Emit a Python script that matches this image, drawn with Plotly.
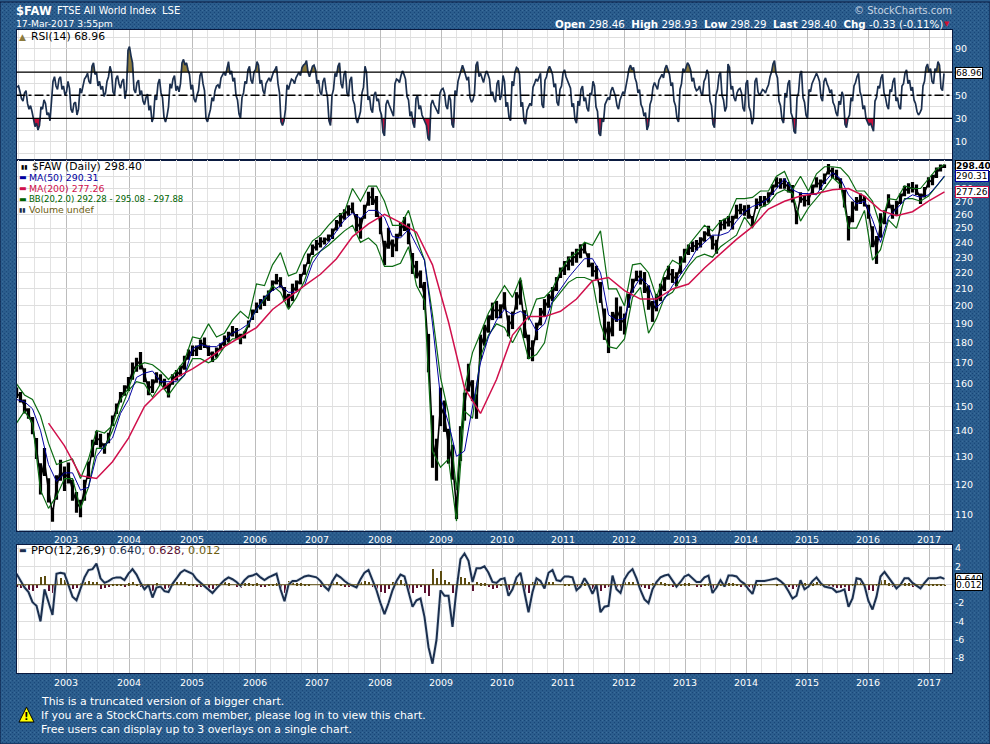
import math
import urllib.parse
import numpy as np
import plotly.graph_objects as go

# x axis is counted in trading sessions from the left edge of the chart
years = ["2003", "2004", "2005", "2006", "2007", "2008", "2009", "2010", "2011", "2012", "2013", "2014", "2015", "2016", "2017"]
year_sessions = [198, 450, 702, 954, 1202, 1454, 1698, 1942, 2186, 2430, 2674, 2918, 3162, 3406, 3650]

# one value every 16 sessions
price = [156,154,150,147,142,133,122,128,118,110,119,125,122,124,118,114,112,118,125,133,137,136,133,137,144,149,154,157,160,166,169,171,164,158,159,163,162,160,157,162,164,166,170,
  174,176,176,179,180,176,173,175,178,181,183,186,185,182,184,190,195,199,201,203,206,212,216,214,207,203,208,212,216,222,229,235,238,240,241,243,246,252,256,260,263,265,254,250,262,272,
  274,266,252,233,243,236,240,249,253,246,226,222,216,206,175,136,129,150,146,134,128,112,135,150,163,157,150,178,184,190,197,198,197,203,189,192,203,208,190,178,176,186,194,199,203,207,213,220,223,226,
  229,231,234,236,228,222,220,208,190,183,190,198,193,190,203,212,218,217,214,205,197,202,208,213,220,218,216,225,231,235,237,238,240,244,248,240,237,252,253,255,254,
  262,264,263,262,255,268,270,270,273,279,285,284,284,281,276,258,273,270,271,279,285,283,288,296,293,291,284,272,250,262,268,272,270,262,244,235,252,258,270,262,265,272,278,280,281,279,272,277,285,287,293,297,298.4]

# height of the black bar cluster at each price point, percent of price
bar_range = [3,3,4,3,5,6,9,8,7,4,
  7,6,7,6,6,6,5,6,5,5,
  4,4,3,3,3,3,3,3,4,5,
  4,5,4,4,4,3,3,3,4,3,
  3,3,4,3,3,3,3,3,3,3,
  3,2,3,3,3,3,3,2,2,3,
  3,3,3,3,3,3,3,4,4,5,
  3,3,3,3,3,3,3,2,2,3,
  3,4,3,3,3,5,6,4,4,5,
  6,5,7,6,5,5,4,4,6,6,
  5,5,8,11,15,12,11,9,10,10,
  6,10,8,8,6,7,7,6,5,5,
  5,4,5,6,5,5,7,8,7,6,
  5,5,5,4,4,4,3,4,4,4,
  4,4,3,4,4,4,6,9,9,7,
  7,7,6,4,4,3,4,6,7,6,
  5,5,4,4,4,4,5,4,3,3,
  3,3,3,3,4,4,3,3,3,4,
  4,3,3,4,3,3,3,3,3,3,
  3,3,3,3,5,4,3,3,3,3,
  3,3,3,3,3,3,3,5,7,6,
  4,3,3,4,6,8,7,4,4,4,
  4,3,3,3,3,3,3,3,3,3,
  3,2,1]

# every 32 sessions
bb_upper = [160,155,153,146,135,127,128,129,122,129,140,139,142,153,158,168,170,169,166,162,166,171,
  183,182,190,183,185,192,197,193,213,212,225,233,218,220,232,241,245,252,258,262,280,270,282,
  282,270,252,252,263,243,228,195,163,147,118,158,175,185,196,204,212,205,217,192,204,205,210,221,229,
  233,240,238,248,210,210,200,225,226,220,205,220,228,225,238,245,252,248,255,258,
  272,272,273,278,278,290,294,279,290,278,292,298,298,297,290,278,278,270,251,272,271,282,280,280,288,296,300]
bb_lower = [143,148,143,118,112,116,122,122,112,119,133,133,140,148,157,161,160,154,160,155,160,164,
  172,172,170,172,178,182,182,190,198,204,212,208,198,205,215,230,234,238,243,248,252,240,243,
  238,224,224,226,237,212,203,132,126,129,108,148,145,173,184,190,188,180,188,172,174,180,202,208,214,
  217,217,215,190,178,177,182,205,211,185,193,205,208,216,224,230,232,230,237,241,
  245,258,250,265,268,276,279,276,255,265,272,280,289,283,250,250,263,228,235,256,250,272,272,270,274,282,290]
ma50 = [153,152,149,140,127,121,124,124,118,119,130,134,137,147,153,163,165,166,161,161,161,164,
  177,179,178,178,181,185,187,190,198,205,209,212,208,208,212,226,234,240,248,256,261,257,263,
  263,258,244,243,249,238,228,190,154,143,130,132,149,170,183,192,198,195,197,194,186,190,203,210,217,
  223,229,229,220,195,192,193,209,217,212,199,204,212,219,226,235,240,245,245,247,
  255,262,266,268,272,280,288,279,276,276,275,285,293,288,275,268,270,256,240,258,264,271,275,273,275,282,290.3]

# every 64 sessions, starts after the first 200 days
ma200_start = 128
ma200 = [143,134,123,122,128,137,150,157,163,167,172,178,183,188,198,205,212,219,229,244,253,260,254,247,225,191,158,147,162,184,194,194,197,204,215,217,209,204,204,210,213,223,232,242,251,264,270,274,276,279,280,274,263,259,262,270,277.3]

# every 12 sessions
rsi = [57,53,45,54,38,36,23,20,40,46,33,28,62,58,64,55,50,62,38,43,33,56,60,66,62,75,68,58,55,49,62,75,53,64,60,62,47,89,84,55,61,50,45,48,37,27,50,60,52,31,32,60,64,54,53,78,76,72,55,47,50,67,60,30,33,48,54,59,65,70,75,68,62,50,34,48,62,72,63,70,79,60,54,60,65,67,72,60,27,28,59,60,63,65,70,74,77,70,72,76,60,53,62,55,28,50,
  69,75,60,68,52,63,46,30,31,52,75,46,38,50,45,37,18,42,42,35,60,63,67,68,49,32,26,47,38,33,28,13,42,42,37,52,56,41,50,25,54,62,72,72,63,48,46,76,66,64,67,68,50,47,60,46,67,40,31,62,70,73,40,28,37,43,57,64,66,42,63,72,72,57,44,55,69,66,60,40,29,45,55,45,39,52,62,40,17,30,42,48,54,52,41,46,53,60,73,72,65,52,42,32,20,42,57,58,
  63,68,73,72,58,45,30,55,73,74,76,62,57,55,52,62,72,45,25,50,67,50,36,77,55,48,52,56,39,60,40,25,62,53,52,54,56,66,77,69,45,29,52,60,35,19,48,68,48,33,55,60,66,66,48,62,60,52,44,35,45,53,25,30,48,58,66,53,38,30,24,22,45,58,65,52,41,55,62,45,40,58,69,60,54,46,36,35,58,74,70,62,73,79,56,68.96]
# the readings between those, 6 sessions later
rsi_mid = [58,47,52,43,41,30,26,24,38,43,35,45,66,55,66,58,53,56,35,44,38,52,64,69,60,78,70,62,58,52,66,70,50,67,56,64,55,92,78,52,63,54,42,51,41,31,46,64,48,27,40,56,67,58,60,81,78,68,59,44,54,70,54,27,38,45,58,56,68,67,79,71,65,46,30,52,60,75,60,72,76,63,51,63,62,70,75,52,24,38,55,64,60,68,67,76,80,66,75,72,63,50,65,48,24,
  55,66,78,56,71,49,66,42,26,36,57,70,49,35,53,47,33,15,46,39,32,64,61,71,64,46,36,22,50,41,30,24,11,46,39,34,55,52,38,46,22,50,66,76,68,66,44,52,79,69,61,71,64,53,44,63,50,62,44,28,58,74,68,44,25,40,41,60,62,69,39,66,75,68,60,41,58,72,63,56,43,26,41,58,48,36,50,58,36,15,27,45,46,57,49,38,49,51,65,76,74,61,55,39,35,24,46,61,
  55,66,65,76,68,61,41,27,60,70,78,72,65,54,58,50,65,68,41,22,55,70,46,40,74,58,45,55,52,36,63,36,30,65,50,55,52,59,70,80,65,41,26,48,63,31,17,52,71,44,30,53,63,69,62,45,65,57,55,41,32,42,49,22,33,45,61,69,49,41,27,26,19,48,56,68,48,38,53,65,48,38,60,72,63,57,43,33,38,62,77,73,60,71,76,54]

# every 16 sessions
ppo = [1.2,0.4,-0.3,-0.8,-1.9,-2.3,-4,-0.5,-2,-3.3,1.2,1.3,1.2,-0.1,-1.3,-1.7,-0.5,0.8,1.6,1.7,2.3,0.7,0.2,0.4,0.7,0.8,0.8,0.5,1.2,1.7,1.1,0.2,-0.5,0,-1.4,-0.3,-0.2,-0.7,-0.8,0.1,0.7,1.3,1.6,1.4,1.2,0.6,0.2,-0.2,-0.6,-0.9,-0.4,0.1,0.5,0.8,0.6,0.3,-0.1,0.5,0.9,1,1.2,0.8,0.5,0.8,1,1.2,-0.5,-1.8,0,0.4,0.4,0.7,0.9,1,0.9,0.8,0.4,-0.2,-0.6,0.4,1.1,0.8,0.4,0.1,-0.1,-0.3,0.6,1.3,1.6,0.5,-0.6,-2,-3.2,-2,-0.6,0.4,1.1,0.9,-0.8,-2.4,-1.7,-1.5,-3.5,-6.8,-8.6,-6,-0.6,-1.2,-1.2,-4.6,-0.5,2.8,3.4,2.6,0.3,1.8,1.8,2,1.3,0.3,0.2,
  0.6,0.7,-1.2,-0.5,0.8,1.3,-1,-3,-0.8,0.7,0.4,-0.4,1.3,1.6,0.5,0.4,0.9,0.9,0.8,-0.6,-0.2,0.7,0,-1,0,-3,-2.4,-2.3,1,-0.5,-0.9,0.6,1.3,1.7,0.7,-0.6,-1.6,-2,-0.5,0.3,0.8,1,1.1,0.5,-0.2,0.3,0.9,1.1,0.7,0.3,0.3,0.8,1,-0.9,-0.3,0.5,-0.2,1,1,0.9,0.4,0.1,-0.5,-1,0.4,0.4,0.4,0.5,0.6,0.7,0.4,0,-0.7,-1.5,-1.2,0.5,-0.5,-0.2,0.4,0.8,0.2,-0.2,-0.3,-0.4,-0.8,-0.7,-0.5,-2.4,-1.5,0.7,0.6,-0.1,-1.8,-2.7,-1.3,0.9,1.4,0.8,0.2,-0.4,0,0.7,0.7,0.2,-0.1,-0.4,0.2,0.7,0.7,0.7,0.8,0.64]
ppo_hist = [-0.2,-0.3,-0.4,-0.5,-0.6,-0.3,0.9,1,-0.6,-0.8,0.9,0.8,0.6,-0.2,-0.4,-0.3,0.2,0.4,0.5,0.3,0.4,-0.4,-0.3,-0.1,0.1,0.1,0.1,-0.1,0.2,0.4,0.1,-0.2,-0.4,0.1,-0.6,0.2,-0.2,-0.4,-0.3,0.2,0.3,0.4,0.3,0.1,0.1,-0.2,-0.2,-0.3,-0.4,-0.4,0.1,0.3,0.3,0.2,0,-0.1,-0.3,0.2,0.2,0.1,0.2,-0.1,-0.1,0.1,0.1,0.2,-0.6,-0.9,0.5,0.4,0.2,0.2,0.1,0.1,0,0,-0.1,-0.2,-0.3,0.3,0.4,0.1,-0.1,-0.2,-0.2,-0.3,0.3,0.5,0.4,-0.2,-0.4,-0.7,-0.9,-0.4,0.3,0.5,0.6,0.2,-0.6,-0.9,-0.3,-0.2,-0.9,-1.2,1.8,0.8,1.5,0.6,0.4,-0.9,0.8,0.9,0.8,0.3,-0.6,0.3,0.2,0.2,-0.2,-0.4,-0.3,
  0.1,0.2,-0.5,0.1,0.4,0.5,-0.5,-0.8,0.4,0.7,0.3,-0.2,0.4,0.4,0,0,0.1,0.1,0,-0.4,-0.1,0.2,-0.1,-0.4,0.1,-0.6,-0.3,-0.1,0.8,-0.1,-0.3,0.3,0.3,0.3,0,-0.2,-0.3,-0.4,0.2,0.4,0.4,0.2,0.1,-0.1,-0.2,0.1,0.2,0.2,0,-0.1,-0.1,0.1,0.2,-0.4,-0.1,0.2,-0.2,0.2,0.2,0.1,-0.1,-0.1,-0.2,-0.4,0.1,0.1,0,0,0,0.1,0,-0.1,-0.2,-0.4,-0.2,0.4,0.2,0.1,0.2,0.3,0.1,-0.1,-0.1,-0.2,-0.3,-0.3,-0.1,-0.6,0.1,0.5,0.4,-0.2,-0.5,-0.6,0.1,0.6,0.6,0.2,-0.1,-0.3,0.1,0.2,0.2,-0.1,-0.1,-0.2,0,0.1,0.1,0.05,0.03,0.012]

rsi_ticks = [10, 30, 50, 70, 90]
price_ticks = list(range(110, 300, 10))
ppo_ticks = [4, 2, 0, -2, -4, -6, -8]

W, H = 990, 744
NAVY = "#1b2f4e"
quarters = [year_sessions[0] - 63 * i for i in range(1, 4)]
for a, b in zip(year_sessions, year_sessions[1:]):
    quarters += [a + (b - a) * i / 4 for i in range(1, 4)]
quarters += [year_sessions[-1] + 63]

x_16 = np.arange(len(price)) * 16
x_32 = np.arange(len(ma50)) * 32
x_64 = ma200_start + np.arange(len(ma200)) * 64

# merge the two rsi lists back in session order
rsi_pts = sorted([(2 + i * 12, v) for i, v in enumerate(rsi)] + [(8 + i * 12, v) for i, v in enumerate(rsi_mid[:len(rsi) - 1])])
x_rsi = [p[0] for p in rsi_pts]
rsi_all = np.array([p[1] for p in rsi_pts], dtype=float)

bar_half = [p * r / 200 for p, r in zip(price, bar_range)]

fig = go.Figure()


def line(x, y, color, width, ax):
    fig.add_trace(go.Scatter(x=x, y=y, mode="lines", line=dict(color=color, width=width), xaxis="x" + ax, yaxis="y" + ax, hoverinfo="skip"))


# rsi panel
line(x_rsi, [70] * len(x_rsi), "rgba(0,0,0,0)", 0, "")
fig.add_trace(go.Scatter(x=x_rsi, y=np.maximum(rsi_all, 70), mode="lines", line=dict(width=0), fill="tonexty", fillcolor="#8c7a3c", hoverinfo="skip"))
line(x_rsi, [30] * len(x_rsi), "rgba(0,0,0,0)", 0, "")
fig.add_trace(go.Scatter(x=x_rsi, y=np.minimum(rsi_all, 30), mode="lines", line=dict(width=0), fill="tonexty", fillcolor="#c8103c", hoverinfo="skip"))
line(x_rsi, rsi_all, NAVY, 1.7, "")

# price panel
fig.add_trace(go.Scatter(x=x_16, y=price, mode="lines", line=dict(color="black", width=1.6), xaxis="x2", yaxis="y2", hoverinfo="skip",
                         error_y=dict(type="data", array=bar_half, arrayminus=bar_half, color="black", thickness=3.2, width=0)))
line(x_32, bb_upper, "#0b6b12", 1.2, "2")
line(x_32, bb_lower, "#0b6b12", 1.2, "2")
line(x_32, ma50, "#0000a0", 1, "2")
line(x_64, ma200, "#d0104c", 1.5, "2")

# ppo panel
fig.add_trace(go.Bar(x=x_16, y=ppo_hist, width=10, marker=dict(color=["#5c4c10" if v >= 0 else "#5a1030" for v in ppo_hist], line=dict(width=0)), xaxis="x3", yaxis="y3", hoverinfo="skip"))
line(x_16, ppo, "#dfe6ee", 3.5, "3")
line(x_16, ppo, NAVY, 2, "3")

axis_style = dict(showline=True, linecolor="#0a1a40", linewidth=1, mirror=True, ticks="", zeroline=False, tickfont=dict(family="DejaVu Sans", size=9.5, color="white"))
x_common = dict(range=[0, 3742], domain=[16.5 / W, 952 / W], tickvals=year_sessions, ticktext=years, showgrid=True, gridcolor="#bcbcbc", gridwidth=1,
                minor=dict(tickvals=quarters, showgrid=True, gridcolor="#e2e2e2", gridwidth=1, ticks=""), **axis_style)
y_common = dict(side="right", showgrid=True, gridcolor="#dedede", gridwidth=1, **axis_style)


def dom(top, bottom):
    return [1 - bottom / H, 1 - top / H]


fig.update_layout(
    width=W, height=H, margin=dict(l=0, r=0, t=0, b=0), showlegend=False, paper_bgcolor="#2a5c8c", plot_bgcolor="white", barmode="overlay", bargap=0,
    xaxis=dict(anchor="y", showticklabels=False, **x_common),
    xaxis2=dict(anchor="y2", **x_common),
    xaxis3=dict(anchor="y3", **x_common),
    yaxis=dict(anchor="x", domain=dom(28, 158), range=[-5.5, 106.4], tickvals=rsi_ticks, ticktext=[str(v) for v in rsi_ticks],
               minor=dict(tickvals=[0, 20, 40, 60, 80, 100], showgrid=True, gridcolor="#dedede", ticks=""), **y_common),
    yaxis2=dict(anchor="x2", domain=dom(158, 530), type="log", range=[math.log10(105.1), math.log10(304.2)], tickvals=price_ticks, ticktext=[str(v) for v in price_ticks], **y_common),
    yaxis3=dict(anchor="x3", domain=dom(544, 673), range=[-9.64, 4.38], tickvals=ppo_ticks, ticktext=["" if v == 0 else str(v) for v in ppo_ticks], **y_common),
)

# background texture, the plot areas go back on top of it as white rectangles
tile = ('<svg xmlns="http://www.w3.org/2000/svg" width="990" height="744"><defs><pattern id="p" width="4" height="4" patternUnits="userSpaceOnUse">'
        '<rect width="4" height="4" fill="#2b5d8d"/><rect width="1" height="1" fill="#174476"/><rect x="2" y="2" width="1" height="1" fill="#174476"/>'
        '<rect x="2" width="1" height="1" fill="#3d6f9c"/></pattern></defs><rect width="990" height="744" fill="url(#p)"/></svg>')
fig.add_layout_image(source="data:image/svg+xml," + urllib.parse.quote(tile), xref="paper", yref="paper", x=0, y=1, sizex=1, sizey=1, xanchor="left", yanchor="top", sizing="stretch", layer="below")
for top, bottom in [(28, 158), (158, 530), (544, 673)]:
    fig.add_shape(type="rect", xref="paper", yref="paper", x0=16.5 / W, x1=952 / W, y0=1 - bottom / H, y1=1 - top / H, fillcolor="white", line=dict(width=0), layer="below")
fig.add_shape(type="rect", xref="paper", yref="paper", x0=0, x1=1, y0=0, y1=1, line=dict(color="#0a1a40", width=1), layer="above")

# rsi levels
for level, dash in [(70, "solid"), (30, "solid"), (50, "dashdot")]:
    fig.add_shape(type="line", xref="x domain", yref="y", x0=0, x1=1, y0=level, y1=level, line=dict(color="black", width=1.3, dash=dash))
fig.add_shape(type="line", xref="x3 domain", yref="y3", x0=0, x1=0.9925, y0=0, y1=0, line=dict(color="#5c4c10", width=1))

# warning sign
fig.add_shape(type="path", xref="paper", yref="paper", path=f"M {19/W} {1-722/H} L {34/W} {1-722/H} L {26.5/W} {1-707/H} Z", fillcolor="#ffff00", line=dict(color="black", width=1))


def label(px, py, text, size=10, color="white", anchor="left", family="DejaVu Sans"):
    fig.add_annotation(xref="paper", yref="paper", x=px / W, y=1 - py / H, text=text, showarrow=False, xanchor=anchor, yanchor="middle",
                       font=dict(family=family, size=size, color=color), borderpad=0, borderwidth=0)


def tag(py_ref, value, text, border="black", bold=False):
    fig.add_annotation(xref="paper", yref=py_ref, x=954.5 / W, y=value, text=f"<b>{text}</b>" if bold else text, showarrow=False, xanchor="left", yanchor="middle",
                       bgcolor="white", bordercolor=border, borderwidth=1, borderpad=0, font=dict(family="DejaVu Sans", size=9, color="black"))


label(16, 9, "<b>$FAW</b>", 11.5)
label(56.5, 9, "FTSE All World Index", 9.7)
label(162, 9, "LSE", 10)
label(16, 22, "17-Mar-2017 3:55pm", 9.2)
label(952, 9, "© StockCharts.com", 10, "#c6d4e2", "right")
label(943, 22, "<b>Open</b> 298.46  <b>High</b> 298.93  <b>Low</b> 298.29  <b>Last</b> 298.40  <b>Chg</b> -0.33 (-0.11%)", 10.3, "white", "right")
label(944, 22, "▼", 7, "#d01030")

label(19, 35, "▲", 9, "#8c7a3c")
label(31, 35, "RSI(14) 68.96", 10.8, "black")
label(21, 165, "▮▮", 6, "black")
label(32, 165, "$FAW (Daily) 298.40", 10.8, "black")
label(19, 176, "▬", 8, "#0000a0")
label(29, 176, "MA(50) 290.31", 9.4, "#0000a0")
label(19, 187, "▬", 8, "#d0104c")
label(29, 187, "MA(200) 277.26", 9.4, "#d0104c")
label(19, 198, "▬", 8, "#006400")
label(29, 198, "BB(20,2.0) 292.28 - 295.08 - 297.88", 8.5, "#006400")
label(19, 208, "▮▮", 6, "#1b2f4e")
label(29, 208, "Volume undef", 9.4, "#6b5c10")
label(19, 550, "▬", 8, NAVY)
label(31, 550, '<span style="color:#000">PPO(12,26,9)</span> <span style="color:#1b2f4e">0.640,</span> <span style="color:#5a1030">0.628,</span> <span style="color:#6b5c10">0.012</span>', 11.3, "black")

label(41, 701, "This is a truncated version of a bigger chart.", 10.9)
label(41, 715, "If you are a StockCharts.com member, please log in to view this chart.", 10.9)
label(41, 729, "Free users can display up to 3 overlays on a single chart.", 10.9)
label(26.5, 716, "<b>!</b>", 10, "black", "center")

tag("y", 68.96, "68.96")
tag("y2", math.log10(298.4), "298.40", bold=True)
tag("y2", math.log10(290.31), "290.31", "#0000a0")
tag("y2", math.log10(277.26), "277.26", "#d0104c")
tag("y3", 0.64, "0.640")
tag("y3", 0.012, "0.012")

fig.write_html("out.html", config=dict(displayModeBar=False), post_script="document.body.style.margin='0';")
